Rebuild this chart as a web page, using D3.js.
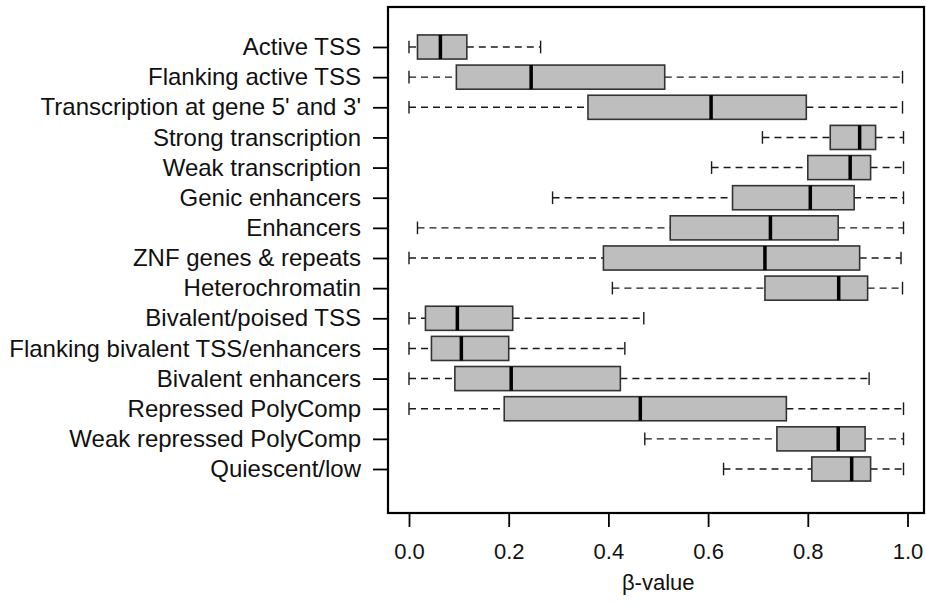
<!DOCTYPE html>
<html>
<head>
<meta charset="utf-8">
<script src="https://cdn.jsdelivr.net/npm/d3@7"></script>
<style>
  html, body { margin: 0; padding: 0; background: #fff; }
  svg { display: block; }
  text { font-family: "Liberation Sans", Arial, sans-serif; fill: #111; }
</style>
</head>
<body>
<svg id="chart" width="926" height="604"></svg>
<script>
const categories = [
  "Active TSS",
  "Flanking active TSS",
  "Transcription at gene 5' and 3'",
  "Strong transcription",
  "Weak transcription",
  "Genic enhancers",
  "Enhancers",
  "ZNF genes & repeats",
  "Heterochromatin",
  "Bivalent/poised TSS",
  "Flanking bivalent TSS/enhancers",
  "Bivalent enhancers",
  "Repressed PolyComp",
  "Weak repressed PolyComp",
  "Quiescent/low"
];
const whiskerLow  = [0.000, 0.000, 0.000, 0.709, 0.607, 0.288, 0.017, 0.000, 0.408, 0.000, 0.000, 0.000, 0.000, 0.473, 0.631];
const q1          = [0.017, 0.095, 0.359, 0.845, 0.800, 0.649, 0.524, 0.390, 0.714, 0.033, 0.045, 0.092, 0.191, 0.738, 0.808];
const median      = [0.063, 0.245, 0.606, 0.904, 0.885, 0.805, 0.725, 0.714, 0.862, 0.097, 0.105, 0.205, 0.464, 0.861, 0.888];
const q3          = [0.116, 0.513, 0.797, 0.936, 0.926, 0.893, 0.861, 0.904, 0.920, 0.208, 0.200, 0.424, 0.757, 0.915, 0.926];
const whiskerHigh = [0.264, 0.990, 0.990, 0.992, 0.992, 0.992, 0.992, 0.987, 0.990, 0.471, 0.433, 0.923, 0.992, 0.992, 0.992];
const xTicks = [0.0, 0.2, 0.4, 0.6, 0.8, 1.0];
const xLabel = "β-value";

const data = categories.map((c, i) => ({
  cat: c, lo: whiskerLow[i], q1: q1[i], med: median[i], q3: q3[i], hi: whiskerHigh[i]
}));

const svg = d3.select("#chart");
const frame = { left: 388, right: 924, top: 7, bottom: 513 };

const x = d3.scaleLinear().domain([0, 1]).range([409, 907.5]);
const y = d3.scaleBand().domain(categories).range([31.93, 484.07]).paddingInner(0).paddingOuter(0);
const bw = y.bandwidth();
const boxH = bw * 0.8;
const capH = bw * 0.42;
const cy = c => y(c) + bw / 2;

const g = svg.append("g");
const wColor = "#1a1a1a";

const rows = g.selectAll("g.row").data(data).join("g").attr("class", "row");
rows.append("line")
  .attr("x1", d => x(d.lo)).attr("x2", d => x(d.q1))
  .attr("y1", d => cy(d.cat)).attr("y2", d => cy(d.cat))
  .attr("stroke", wColor).attr("stroke-width", 1.4).attr("stroke-dasharray", "7,5");
rows.append("line")
  .attr("x1", d => x(d.q3)).attr("x2", d => x(d.hi))
  .attr("y1", d => cy(d.cat)).attr("y2", d => cy(d.cat))
  .attr("stroke", wColor).attr("stroke-width", 1.4).attr("stroke-dasharray", "7,5");
rows.append("line")
  .attr("x1", d => x(d.lo)).attr("x2", d => x(d.lo))
  .attr("y1", d => cy(d.cat) - capH / 2).attr("y2", d => cy(d.cat) + capH / 2)
  .attr("stroke", wColor).attr("stroke-width", 1.4);
rows.append("line")
  .attr("x1", d => x(d.hi)).attr("x2", d => x(d.hi))
  .attr("y1", d => cy(d.cat) - capH / 2).attr("y2", d => cy(d.cat) + capH / 2)
  .attr("stroke", wColor).attr("stroke-width", 1.4);
rows.append("rect")
  .attr("x", d => x(d.q1)).attr("width", d => x(d.q3) - x(d.q1))
  .attr("y", d => cy(d.cat) - boxH / 2).attr("height", boxH)
  .attr("fill", "#bebebe").attr("stroke", "#333").attr("stroke-width", 1.6);
rows.append("line")
  .attr("x1", d => x(d.med)).attr("x2", d => x(d.med))
  .attr("y1", d => cy(d.cat) - boxH / 2).attr("y2", d => cy(d.cat) + boxH / 2)
  .attr("stroke", "#000").attr("stroke-width", 3.5);

svg.append("rect")
  .attr("x", frame.left).attr("y", frame.top)
  .attr("width", frame.right - frame.left).attr("height", frame.bottom - frame.top)
  .attr("fill", "none").attr("stroke", "#000").attr("stroke-width", 2.2);

const yAxis = d3.axisLeft(d3.scalePoint().domain(categories).range([cy(categories[0]), cy(categories[categories.length - 1])]))
  .tickSize(15).tickPadding(12);
const ya = svg.append("g").attr("transform", `translate(${frame.left},0)`).call(yAxis);
ya.select(".domain").remove();
ya.selectAll(".tick line").attr("stroke", "#000").attr("stroke-width", 1.8);
ya.selectAll(".tick text").attr("font-size", "24px").attr("fill", "#111")
  .attr("font-family", "'Liberation Sans', Arial, sans-serif");

const xAxis = d3.axisBottom(x).tickValues(xTicks).tickFormat(d3.format(".1f")).tickSize(14).tickPadding(16);
const xa = svg.append("g").attr("transform", `translate(0,${frame.bottom})`).call(xAxis);
xa.select(".domain").remove();
xa.selectAll(".tick line").attr("stroke", "#000").attr("stroke-width", 1.8);
xa.selectAll(".tick text").attr("font-size", "22px").attr("fill", "#111")
  .attr("font-family", "'Liberation Sans', Arial, sans-serif");

svg.append("text")
  .attr("x", x(0.5)).attr("y", 590)
  .attr("text-anchor", "middle").attr("font-size", "22px")
  .text(xLabel);
</script>
</body>
</html>
